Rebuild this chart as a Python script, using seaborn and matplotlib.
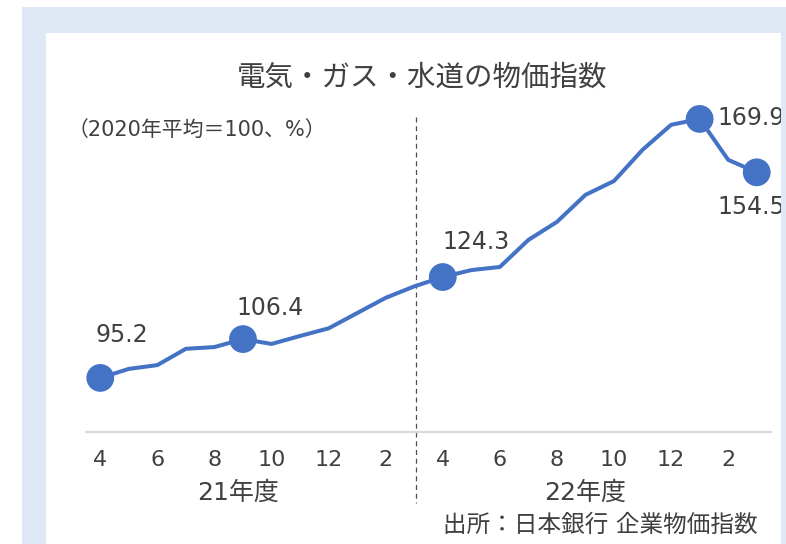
import matplotlib.pyplot as plt
import matplotlib.patches as patches
import seaborn as sns

sns.set_style("white")
plt.rcParams['font.family'] = ['DejaVu Sans', 'Noto Sans CJK JP']

# Monthly index, Apr 2021 - Mar 2023 (2020 avg = 100)
months = list(range(24))
values = [95.2, 97.8, 98.9, 103.6, 104.1, 106.4, 105.0, 107.3, 109.5, 113.9, 118.3, 121.6,
          124.3, 126.3, 127.2, 135.0, 140.2, 148.0, 152.0, 161.0, 168.2, 169.9, 158.1, 154.5]
tick_pos = list(range(0, 24, 2))
tick_labels = ['4', '6', '8', '10', '12', '2', '4', '6', '8', '10', '12', '2']
highlight = [0, 5, 12, 21, 23]
# label offsets in pixels (dx from point to text left edge, dy up to text center)
label_offsets = {0: (-5, 43), 5: (-7, 31), 12: (0, 35), 21: (18, 1), 23: (-39, -35)}

blue = '#4472C4'
txt = '#404040'
W, H = 786, 544

fig = plt.figure(figsize=(W / 100, H / 100), dpi=100)
fig.patch.set_facecolor('white')

# light blue frame and white panel
fig.add_artist(patches.Rectangle((22 / W, 0), 1, (H - 7) / H, transform=fig.transFigure,
                                 facecolor='#dee9f5', edgecolor='none', zorder=-2))
fig.add_artist(patches.Rectangle((46 / W, 0), (781 - 46) / W, (H - 33) / H, transform=fig.transFigure,
                                 facecolor='white', edgecolor='none', zorder=-1))

ymin, ymax = 79.6, 185
ax_left, ax_right, ax_bottom = 86, 771, 432
px_per_unit = 3.467
ax_top = ax_bottom - (ymax - ymin) * px_per_unit
ax = fig.add_axes([ax_left / W, (H - ax_bottom) / H, (ax_right - ax_left) / W, (ax_bottom - ax_top) / H])
ax.set_facecolor('none')

sns.lineplot(x=months, y=values, color=blue, lw=2.9, ax=ax, zorder=3)
sns.scatterplot(x=[months[i] for i in highlight], y=[values[i] for i in highlight],
                color=blue, s=400, edgecolor='none', ax=ax, zorder=4)

for i in highlight:
    dx, dy = label_offsets[i]
    ax.annotate(f'{values[i]:.1f}', (months[i], values[i]), xytext=(dx * 0.72, dy * 0.72),
                textcoords='offset points', ha='left', va='center', fontsize=17, color=txt,
                annotation_clip=False)

ax.set_xlim(-0.5, 23.5)
ax.set_ylim(ymin, ymax)
ax.set_xticks(tick_pos, tick_labels)
ax.tick_params(axis='x', length=0, pad=13, labelsize=16, labelcolor=txt)
ax.set_yticks([])
for s in ['left', 'right', 'top']:
    ax.spines[s].set_visible(False)
ax.spines['bottom'].set_color('#d9d9d9')
ax.spines['bottom'].set_linewidth(1.6)

# fiscal year divider
ax.plot([11.05, 11.05], [170.5, 59.1], ls=(0, (4, 3)), color='#505050', lw=0.9, clip_on=False, zorder=2)

ax.text(4.83, -0.167, '21年度', transform=ax.get_xaxis_transform(), ha='center', va='center',
        fontsize=18, color=txt)
ax.text(17.0, -0.167, '22年度', transform=ax.get_xaxis_transform(), ha='center', va='center',
        fontsize=18, color=txt)

fig.text(422 / W, 1 - 78 / H, '電気・ガス・水道の物価指数', ha='center', va='center', fontsize=20.5, color=txt)
fig.text(68 / W, 1 - 130 / H, '（2020年平均＝100、%）', ha='left', va='center', fontsize=15, color=txt)
fig.text(758 / W, 1 - 525 / H, '出所：日本銀行 企業物価指数', ha='right', va='center', fontsize=17, color=txt)

# right edge of frame covers labels running past the panel
fig.add_artist(patches.Rectangle((781 / W, 0), 5 / W, (H - 7) / H, transform=fig.transFigure,
                                 facecolor='#dee9f5', edgecolor='none', zorder=10))

fig.savefig('out.png', dpi=100)
